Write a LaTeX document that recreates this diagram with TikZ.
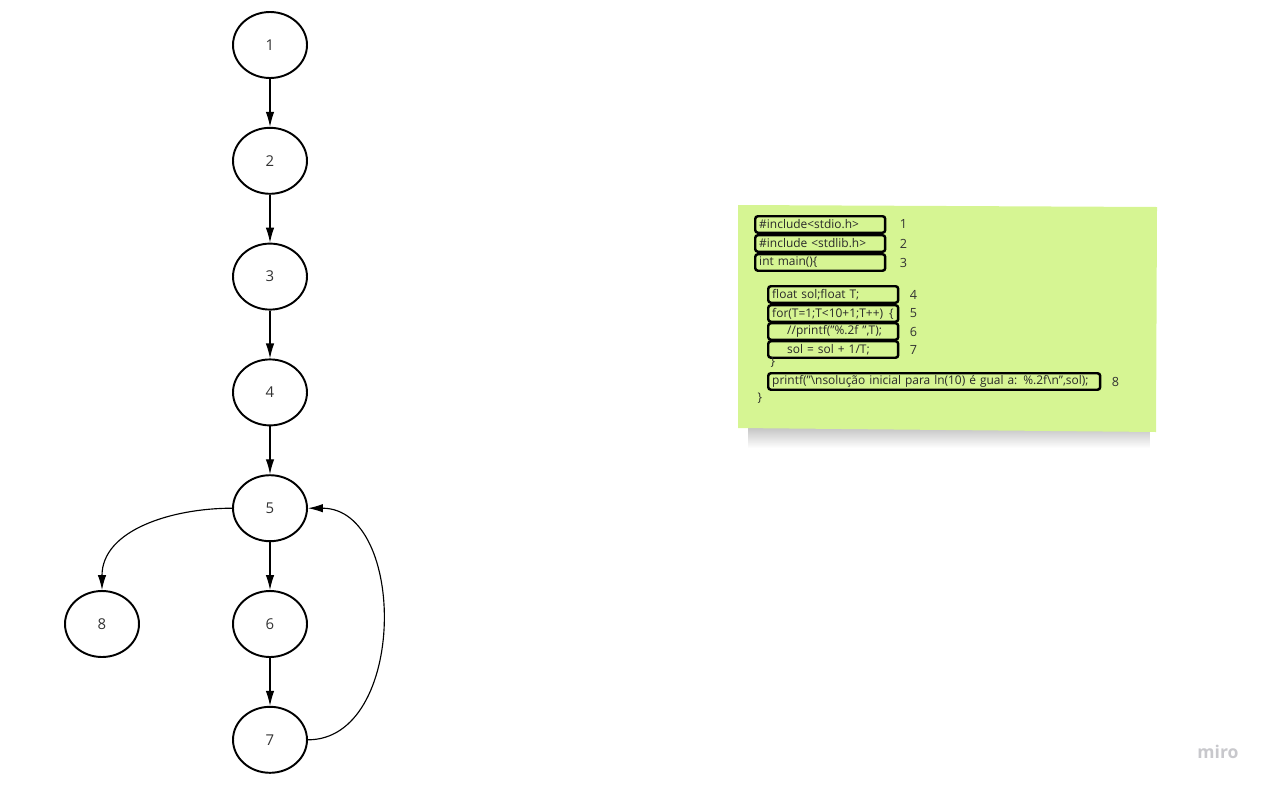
\documentclass[tikz,border=0pt]{standalone}
\usepackage{fontspec}
\setmainfont{Open Sans}
\usepackage{xcolor}
\usetikzlibrary{positioning,arrows.meta,fadings,shapes.geometric}

\definecolor{notegreen}{RGB}{214,245,147}
\definecolor{numgray}{RGB}{51,51,51}
\definecolor{mirogray}{RGB}{200,200,204}

\tikzset{
	vertex/.style={ellipse,draw,line width=1.1pt,minimum width=1.48cm,minimum height=1.32cm,
		inner sep=0pt,text=numgray,font=\fontsize{8.5}{10}\selectfont},
	flow/.style={-{Latex[length=0.3cm,width=0.17cm]},line width=0.65pt},
	codebox/.style={draw,line width=1.4pt,rounded corners=1.5pt,anchor=north west,
		inner xsep=0.08cm,inner ysep=0pt,minimum height=0.33cm,text width=#1,align=left,
		text=numgray!80!black,font=\fontsize{6.8}{7.5}\selectfont},
	codebox/.default=2.44cm,
	lineno/.style={inner sep=0pt,text=numgray,font=\fontsize{7.2}{8}\selectfont},
	codetext/.style={inner sep=0pt,text=numgray!80!black,font=\fontsize{6.8}{7.5}\selectfont},
}

\begin{document}
\begin{tikzpicture}[x=0.02cm,y=-0.02cm]
	\useasboundingbox (0,0) rectangle (1267,788);
	% control flow graph
	\foreach \i in {1,...,7}
		\node[vertex] (n\i) at (270,{45+115.8*(\i-1)}) {\i};
	\node[vertex] (n8) at (102,624) {8};
	\foreach \i/\j in {1/2,2/3,3/4,4/5,5/6,6/7}
		\draw[flow] (n\i) -- (n\j);
	\draw[flow] (n5.west) to[out=180,in=90] (n8.north);
	\draw[flow] (n7.east) to[out=0,in=0,looseness=1.1] (n5.east);
	% sticky note
	\fill[black!45,opacity=0.5,path fading=south] (748,428) rectangle (1150,448);
	\fill[notegreen] (738,205) -- (1157,207) -- (1156,432) -- (738,428) -- cycle;
	\node[codebox] (b1) at (754,215) {\#include<stdio.h>};
	\node[codebox] (b2) at (754,234) {\#include <stdlib.h>};
	\node[codebox] (b3) at (754,253) {int main()\{};
	\node[codebox] (b4) at (767,285) {float sol;float T;};
	\node[codebox] (b5) at (767,304) {\mbox{for(T=1;T<10+1;T++)\ \,\{}};
	\node[codebox] (b6) at (767,322) {\hspace*{0.3cm}//printf("\%.2f ",T);};
	\node[codebox] (b7) at (767,340) {\hspace*{0.3cm}sol = sol + 1/T;};
	\node[codetext] (c1) at (773,362) {\}};
	\node[codebox=6.48cm] (b8) at (767,372) {printf("\textbackslash nsolução inicial para ln(10) é gual a: \%.2f\textbackslash n",sol);};
	\node[codetext] (c2) at (760,398) {\}};
	\foreach \k in {1,...,3}
		\node[lineno,right=0.26cm of b\k] (l\k) {\k};
	\foreach \k in {4,...,8}
		\node[lineno,right=0.2cm of b\k] (l\k) {\k};
	% watermark
	\node[text=mirogray,font=\fontsize{10}{12}\selectfont\bfseries] (miro) at (1218,752) {miro};
\end{tikzpicture}
\end{document}
